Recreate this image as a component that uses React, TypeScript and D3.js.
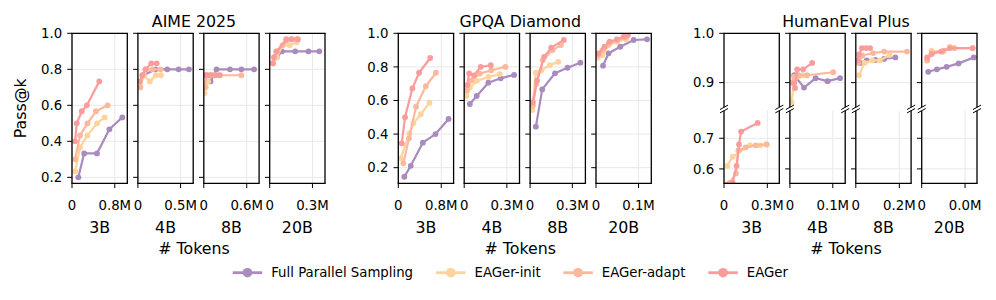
import React from "react";
import * as d3 from "d3";

const SIZES = ["3B", "4B", "8B", "20B"];
const BENCHMARKS = ["AIME 2025", "GPQA Diamond", "HumanEval Plus"];
const METHODS = ["Full Parallel Sampling", "EAGer-init", "EAGer-adapt", "EAGer"];
const COLORS = ["#a98bbd", "#fed39c", "#fcb89d", "#fb9c9c"];

// x limits (millions of tokens) and the second x tick of each panel
const AIME_XMAX = [1.034, 0.648, 0.773, 0.388];
const AIME_XTICK = [0.8, 0.5, 0.6, 0.3];
const GPQA_XMAX = [1.03, 0.389, 0.393, 0.13];
const GPQA_XTICK = [0.8, 0.3, 0.3, 0.1];
const HE_XMAX = [0.383, 0.129, 0.254, 0.051];
const HE_XTICK = [0.3, 0.1, 0.2, 0.04];

const AIME_YDOM = [0.167, 1.0];
const GPQA_YDOM = [0.107, 1.0];
const HE_TOP_YDOM = [0.85, 1.0];
const HE_BOT_YDOM = [0.553, 0.79];
const AIME_YTICKS = [0.2, 0.4, 0.6, 0.8, 1.0];
const GPQA_YTICKS = [0.2, 0.4, 0.6, 0.8, 1.0];
const HE_TOP_YTICKS = [0.9, 1.0];
const HE_BOT_YTICKS = [0.6, 0.7];

// [tokens (M), pass@k] per model size
const AIME_FULL = [
  [[0.119, 0.2], [0.227, 0.333], [0.467, 0.333], [0.699, 0.467], [0.94, 0.533]],
  [[0.067, 0.767], [0.206, 0.8], [0.344, 0.8], [0.477, 0.8], [0.598, 0.8]],
  [[0.094, 0.733], [0.178, 0.8], [0.366, 0.8], [0.525, 0.8], [0.703, 0.8]],
  [[0.05, 0.867], [0.086, 0.9], [0.179, 0.9], [0.272, 0.9], [0.348, 0.9]],
];
const AIME_INIT = [
  [[0.057, 0.233], [0.151, 0.367], [0.289, 0.433], [0.466, 0.5], [0.611, 0.533]],
  [[0.03, 0.7], [0.07, 0.767], [0.14, 0.733], [0.21, 0.767], [0.27, 0.767]],
  [[0.01, 0.667], [0.03, 0.7], [0.06, 0.733], [0.1, 0.767], [0.15, 0.767]],
  [[0.02, 0.833], [0.05, 0.867], [0.09, 0.933], [0.14, 0.933], [0.19, 0.95]],
];
const AIME_ADAPT = [
  [[0.057, 0.3], [0.151, 0.433], [0.289, 0.5], [0.448, 0.567], [0.667, 0.6]],
  [[0.026, 0.7], [0.055, 0.767], [0.09, 0.8], [0.172, 0.8], [0.265, 0.8]],
  [[0.015, 0.7], [0.04, 0.767], [0.1, 0.767], [0.2, 0.767], [0.525, 0.767]],
  [[0.02, 0.833], [0.045, 0.9], [0.09, 0.933], [0.15, 0.967], [0.19, 0.967]],
];
const AIME_EAGER = [
  [[0.057, 0.4], [0.089, 0.5], [0.183, 0.567], [0.278, 0.6], [0.51, 0.733]],
  [[0.023, 0.733], [0.052, 0.767], [0.09, 0.8], [0.157, 0.833], [0.22, 0.833]],
  [[0.015, 0.767], [0.05, 0.767], [0.1, 0.767], [0.16, 0.767], [0.225, 0.767]],
  [[0.024, 0.833], [0.03, 0.867], [0.05, 0.9], [0.116, 0.967], [0.156, 0.967], [0.198, 0.967]],
];

const GPQA_FULL = [
  [[0.112, 0.146], [0.232, 0.211], [0.457, 0.349], [0.693, 0.4], [0.936, 0.49]],
  [[0.04, 0.579], [0.088, 0.627], [0.17, 0.706], [0.257, 0.732], [0.351, 0.752]],
  [[0.041, 0.444], [0.086, 0.666], [0.177, 0.762], [0.266, 0.795], [0.357, 0.825]],
  [[0.0165, 0.807], [0.0296, 0.881], [0.057, 0.92], [0.0885, 0.96], [0.12, 0.964]],
];
const GPQA_INIT = [
  [[0.045, 0.255], [0.206, 0.404], [0.281, 0.464], [0.419, 0.518], [0.58, 0.587]],
  [[0.015, 0.627], [0.04, 0.677], [0.09, 0.717], [0.17, 0.74], [0.25, 0.757]],
  [[0.015, 0.543], [0.04, 0.765], [0.08, 0.78], [0.14, 0.81], [0.2, 0.83]],
  [[0.004, 0.855], [0.015, 0.87], [0.03, 0.93], [0.05, 0.95], [0.07, 0.965]],
];
const GPQA_ADAPT = [
  [[0.094, 0.226], [0.2, 0.375], [0.331, 0.563], [0.513, 0.686], [0.7, 0.765]],
  [[0.02, 0.66], [0.05, 0.72], [0.11, 0.76], [0.19, 0.78], [0.29, 0.8]],
  [[0.02, 0.57], [0.045, 0.7], [0.09, 0.84], [0.16, 0.9], [0.22, 0.93]],
  [[0.004, 0.87], [0.015, 0.9], [0.03, 0.94], [0.05, 0.96], [0.07, 0.975]],
];
const GPQA_EAGER = [
  [[0.064, 0.345], [0.125, 0.5], [0.262, 0.672], [0.388, 0.765], [0.594, 0.853]],
  [[0.021, 0.692], [0.035, 0.762], [0.069, 0.75], [0.116, 0.8], [0.187, 0.81]],
  [[0.02, 0.59], [0.05, 0.72], [0.1, 0.86], [0.15, 0.915], [0.24, 0.96]],
  [[0.006, 0.88], [0.02, 0.92], [0.032, 0.95], [0.049, 0.964], [0.065, 0.98], [0.075, 0.99]],
];

const HE_FULL = [
  [],
  [[0.01, 0.915], [0.033, 0.89], [0.06, 0.909], [0.088, 0.903], [0.117, 0.909]],
  [[0.02, 0.94], [0.05, 0.945], [0.09, 0.946], [0.13, 0.948], [0.182, 0.951]],
  [[0.006, 0.922], [0.014, 0.927], [0.023, 0.932], [0.034, 0.939], [0.048, 0.951]],
];
const HE_INIT = [
  [[0.023, 0.61], [0.06, 0.64], [0.18, 0.677], [0.25, 0.677], [0.295, 0.68]],
  [[0.004, 0.86], [0.01, 0.905], [0.02, 0.912], [0.03, 0.915]],
  [[0.015, 0.915], [0.04, 0.94], [0.075, 0.945], [0.11, 0.945], [0.155, 0.956]],
  [[0.005, 0.945], [0.009, 0.965], [0.02, 0.963], [0.026, 0.973], [0.03, 0.97]],
];
const HE_ADAPT = [
  [[0.04, 0.555], [0.083, 0.585], [0.1, 0.66], [0.15, 0.67], [0.22, 0.677], [0.295, 0.68]],
  [[0.005, 0.9], [0.01, 0.912], [0.02, 0.915], [0.04, 0.915], [0.101, 0.921]],
  [[0.01, 0.94], [0.03, 0.955], [0.08, 0.96], [0.13, 0.963], [0.235, 0.963]],
  [[0.005, 0.945], [0.01, 0.96], [0.02, 0.965], [0.03, 0.97], [0.047, 0.97]],
];
const HE_EAGER = [
  [[0.02, 0.549], [0.06, 0.555], [0.087, 0.61], [0.104, 0.68], [0.118, 0.722], [0.233, 0.75]],
  [[0.0094, 0.899], [0.012, 0.889], [0.017, 0.927], [0.031, 0.927], [0.052, 0.94]],
  [[0.008, 0.945], [0.015, 0.957], [0.028, 0.97], [0.048, 0.97], [0.066, 0.97]],
  [[0.005, 0.951], [0.009, 0.958], [0.018, 0.963], [0.026, 0.97], [0.047, 0.97]],
];

const FONT = "DejaVu Sans, sans-serif";
const W = 996;
const H = 300;
const TOP = 33.3;
const BOTTOM = 183.3;
const HE_TOP_BOTTOM = 107.3;
const HE_BOT_TOP = 110.7;
const PANEL_W = 55.3;
const PANEL_STEP = 65.9;
const GROUP_START = [72, 398.3, 724];
const TICK = 4.8;
const GRID = "#e9e9e9";
const TICK_FS = 13.3;
const LABEL_FS = 15.8;

const fmtX = (v: number) => (v === 0 ? "0" : v.toFixed(1) + "M");

type Series = number[][];

function Panel(props: {
  id: string;
  x0: number;
  xmax: number;
  xtick: number;
  y0: number;
  y1: number;
  ydom: number[];
  yticks: number[];
  fmtY: (v: number) => string;
  showYLabels: boolean;
  series: Series[];
  spines: { top: boolean; bottom: boolean };
  xAxis: boolean;
  vgrid: boolean;
}) {
  const { id, x0, xmax, xtick, y0, y1, ydom, yticks, fmtY, showYLabels, series, spines, xAxis, vgrid } = props;
  const x = d3.scaleLinear().domain([0, xmax]).range([x0, x0 + PANEL_W]);
  const y = d3.scaleLinear().domain(ydom).range([y1, y0]);
  const line = d3
    .line<number[]>()
    .x((d) => x(d[0]))
    .y((d) => y(d[1]));
  const xticks = [0, xtick];
  return (
    <g>
      <defs>
        <clipPath id={id}>
          <rect x={x0} y={y0} width={PANEL_W} height={y1 - y0} />
        </clipPath>
      </defs>
      {yticks.map((t) => (
        <line key={"hg" + t} x1={x0} x2={x0 + PANEL_W} y1={y(t)} y2={y(t)} stroke={GRID} strokeWidth={1} />
      ))}
      {vgrid &&
        xticks.map((t) => (
          <line key={"vg" + t} x1={x(t)} x2={x(t)} y1={y0} y2={y1} stroke={GRID} strokeWidth={1} />
        ))}
      <g clipPath={`url(#${id})`}>
        {series.map((s, i) =>
          s.length ? (
            <g key={i}>
              <path d={line(s) || ""} fill="none" stroke={COLORS[i]} strokeWidth={2.2} strokeLinejoin="round" />
              {s.map((d, j) => (
                <circle key={j} cx={x(d[0])} cy={y(d[1])} r={2.9} fill={COLORS[i]} />
              ))}
            </g>
          ) : null
        )}
      </g>
      <line x1={x0} x2={x0} y1={y0} y2={y1} stroke="#000" strokeWidth={1.3} />
      <line x1={x0 + PANEL_W} x2={x0 + PANEL_W} y1={y0} y2={y1} stroke="#000" strokeWidth={1.3} />
      {spines.top && <line x1={x0 - 0.65} x2={x0 + PANEL_W + 0.65} y1={y0} y2={y0} stroke="#000" strokeWidth={1.3} />}
      {spines.bottom && <line x1={x0 - 0.65} x2={x0 + PANEL_W + 0.65} y1={y1} y2={y1} stroke="#000" strokeWidth={1.3} />}
      {yticks.map((t) => (
        <g key={"yt" + t}>
          <line x1={x0 - TICK} x2={x0} y1={y(t)} y2={y(t)} stroke="#000" strokeWidth={1} />
          {showYLabels && (
            <text x={x0 - TICK - 5} y={y(t)} dy="0.36em" textAnchor="end" fontSize={TICK_FS} fontFamily={FONT}>
              {fmtY(t)}
            </text>
          )}
        </g>
      ))}
      {xAxis &&
        xticks.map((t) => (
          <g key={"xt" + t}>
            <line x1={x(t)} x2={x(t)} y1={y1} y2={y1 + TICK} stroke="#000" strokeWidth={1} />
            <text x={x(t)} y={209.8} textAnchor="middle" fontSize={TICK_FS} fontFamily={FONT}>
              {fmtX(t)}
            </text>
          </g>
        ))}
    </g>
  );
}

export default function App() {
  const data = [
    [AIME_FULL, AIME_INIT, AIME_ADAPT, AIME_EAGER],
    [GPQA_FULL, GPQA_INIT, GPQA_ADAPT, GPQA_EAGER],
    [HE_FULL, HE_INIT, HE_ADAPT, HE_EAGER],
  ];
  const xmaxes = [AIME_XMAX, GPQA_XMAX, HE_XMAX];
  const xticks = [AIME_XTICK, GPQA_XTICK, HE_XTICK];
  const ydoms = [AIME_YDOM, GPQA_YDOM];
  const yticksArr = [AIME_YTICKS, GPQA_YTICKS];
  const fmt1 = (v: number) => v.toFixed(1);

  const legendX = [232.7, 436, 563.3, 708.3];

  return (
    <svg width={W} height={H} style={{ display: "block", position: "absolute", left: 0, top: 0 }}>
      <rect width={W} height={H} fill="#fff" />
      {BENCHMARKS.map((b, g) => {
        const gx = GROUP_START[g];
        const cx = gx + 122;
        return (
          <g key={b}>
            <text x={cx} y={26.5} textAnchor="middle" fontSize={LABEL_FS} fontFamily={FONT}>
              {b}
            </text>
            <text x={cx} y={254} textAnchor="middle" fontSize={LABEL_FS} fontFamily={FONT}>
              # Tokens
            </text>
            {SIZES.map((s, i) => {
              const x0 = gx + i * PANEL_STEP;
              const series = data[g].map((m) => m[i]);
              return (
                <g key={s}>
                  {g < 2 ? (
                    <Panel
                      id={`c${g}${i}`}
                      x0={x0}
                      xmax={xmaxes[g][i]}
                      xtick={xticks[g][i]}
                      y0={TOP}
                      y1={BOTTOM}
                      ydom={ydoms[g]}
                      yticks={yticksArr[g]}
                      fmtY={fmt1}
                      showYLabels={i === 0}
                      series={series}
                      spines={{ top: true, bottom: true }}
                      xAxis={true}
                      vgrid={true}
                    />
                  ) : (
                    <g>
                      <Panel
                        id={`c${g}${i}t`}
                        x0={x0}
                        xmax={xmaxes[g][i]}
                        xtick={xticks[g][i]}
                        y0={TOP}
                        y1={HE_TOP_BOTTOM}
                        ydom={HE_TOP_YDOM}
                        yticks={HE_TOP_YTICKS}
                        fmtY={fmt1}
                        showYLabels={i === 0}
                        series={series}
                        spines={{ top: true, bottom: false }}
                        xAxis={false}
                        vgrid={false}
                      />
                      <Panel
                        id={`c${g}${i}b`}
                        x0={x0}
                        xmax={xmaxes[g][i]}
                        xtick={xticks[g][i]}
                        y0={HE_BOT_TOP}
                        y1={BOTTOM}
                        ydom={HE_BOT_YDOM}
                        yticks={HE_BOT_YTICKS}
                        fmtY={fmt1}
                        showYLabels={i === 0}
                        series={series}
                        spines={{ top: false, bottom: true }}
                        xAxis={true}
                        vgrid={true}
                      />
                      {[x0, x0 + PANEL_W].map((sx) =>
                        [HE_TOP_BOTTOM, HE_BOT_TOP].map((sy) => (
                          <line
                            key={sx + "-" + sy}
                            x1={sx - 4}
                            x2={sx + 4}
                            y1={sy + 2.2}
                            y2={sy - 2.2}
                            stroke="#000"
                            strokeWidth={1}
                          />
                        ))
                      )}
                    </g>
                  )}
                  <text x={x0 + PANEL_W / 2} y={233.3} textAnchor="middle" fontSize={LABEL_FS} fontFamily={FONT}>
                    {s}
                  </text>
                </g>
              );
            })}
          </g>
        );
      })}
      <text transform={`translate(25.5,108.3) rotate(-90)`} textAnchor="middle" fontSize={LABEL_FS} fontFamily={FONT}>
        Pass@k
      </text>
      {METHODS.map((m, i) => (
        <g key={m}>
          <line x1={legendX[i]} x2={legendX[i] + 29.5} y1={272.7} y2={272.7} stroke={COLORS[i]} strokeWidth={2.8} />
          <circle cx={legendX[i] + 14.75} cy={272.7} r={4.8} fill={COLORS[i]} />
          <text x={legendX[i] + 38.5} y={272.7} dy="0.36em" fontSize={TICK_FS} fontFamily={FONT}>
            {m}
          </text>
        </g>
      ))}
    </svg>
  );
}
